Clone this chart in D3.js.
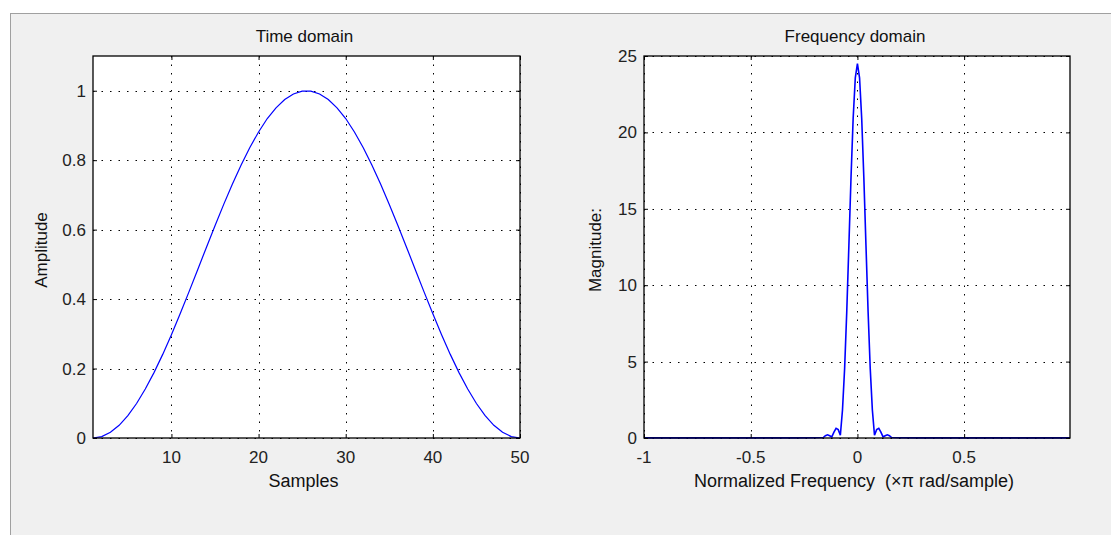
<!DOCTYPE html>
<html>
<head>
<meta charset="utf-8">
<script src="https://cdn.jsdelivr.net/npm/d3@7"></script>
<style>
  body { margin: 0; background: #fff; }
  svg { display: block; font-family: "Liberation Sans", Arial, sans-serif; }
  text { white-space: pre; }
</style>
</head>
<body>
<svg id="fig" width="1111" height="535"></svg>
<script>
// time domain: 50-point window, samples 1..50
var samples = d3.range(1, 51);
var amplitude = [0, 0.0041, 0.0163, 0.0365, 0.0643, 0.0993, 0.1409, 0.1883, 0.2408, 0.2976,
    0.3577, 0.4200, 0.4840, 0.5480, 0.6113, 0.6727, 0.7313, 0.7862, 0.8365, 0.8813,
    0.9200, 0.9505, 0.9745, 0.9908, 0.9990, 0.9990, 0.9908, 0.9745, 0.9505, 0.9200,
    0.8813, 0.8365, 0.7862, 0.7313, 0.6727, 0.6113, 0.5480, 0.4840, 0.4200, 0.3577,
    0.2976, 0.2408, 0.1883, 0.1409, 0.0993, 0.0643, 0.0365, 0.0163, 0.0041, 0];

// frequency domain (normalized frequency x pi rad/sample)
var freq = [-1, -0.6, -0.3, -0.2, -0.16, -0.15, -0.14, -0.13, -0.12, -0.11, -0.10, -0.09,
    -0.08, -0.07, -0.06, -0.05, -0.04, -0.03, -0.02, -0.01, 0, 0.01, 0.02, 0.03, 0.04,
    0.05, 0.06, 0.07, 0.08, 0.09, 0.10, 0.11, 0.12, 0.13, 0.14, 0.15, 0.16, 0.2, 0.3, 0.6, 0.996];
var magnitude = [0.005, 0.005, 0.01, 0.02, 0.03, 0.15, 0.21, 0.15, 0.07, 0.38, 0.63, 0.55,
    0.18, 1.83, 4.55, 8.26, 12.62, 17.07, 20.93, 23.57, 24.5, 23.57, 20.93, 17.07, 12.62,
    8.26, 4.55, 1.83, 0.18, 0.55, 0.63, 0.38, 0.07, 0.15, 0.21, 0.15, 0.03, 0.02, 0.01, 0.005, 0.005];

var timeTicksX = [10, 20, 30, 40, 50];
var timeTicksY = [0, 0.2, 0.4, 0.6, 0.8, 1];
var freqTicksX = [-1, -0.5, 0, 0.5];
var freqTicksY = [0, 5, 10, 15, 20, 25];

var svg = d3.select('#fig');

// window panel
svg.append('rect')
    .attr('x', 10.5).attr('y', 13.5)
    .attr('width', 1110).attr('height', 530)
    .style('fill', '#f0f0f0')
    .style('stroke', '#a0a0a0');

function drawAxes(opt) {
    var x = d3.scaleLinear().domain(opt.xDomain).range([opt.left, opt.right]);
    var y = d3.scaleLinear().domain(opt.yDomain).range([opt.bottom, opt.top]);
    var g = svg.append('g');

    g.append('rect')
        .attr('x', opt.left).attr('y', opt.top)
        .attr('width', opt.right - opt.left).attr('height', opt.bottom - opt.top)
        .style('fill', '#fff');

    // dotted grid
    g.selectAll('.gx').data(opt.xTicks).enter().append('line')
        .attr('x1', function(d){ return Math.round(x(d)) + 0.5; })
        .attr('x2', function(d){ return Math.round(x(d)) + 0.5; })
        .attr('y1', opt.top).attr('y2', opt.bottom)
        .style('stroke', '#000').style('stroke-width', 1)
        .style('stroke-dasharray', '1.5,7');
    g.selectAll('.gy').data(opt.yTicks).enter().append('line')
        .attr('y1', function(d){ return Math.round(y(d)) + 0.5; })
        .attr('y2', function(d){ return Math.round(y(d)) + 0.5; })
        .attr('x1', opt.left).attr('x2', opt.right)
        .style('stroke', '#000').style('stroke-width', 1)
        .style('stroke-dasharray', '1.5,7');

    // data line
    g.append('path')
        .datum(opt.xs.map(function(d, i){ return [d, opt.ys[i]]; }))
        .attr('d', d3.line()
            .x(function(d){ return x(d[0]); })
            .y(function(d){ return y(d[1]); }))
        .style('fill', 'none')
        .style('stroke', '#0000ff')
        .style('stroke-width', opt.lw);

    // inner ticks on all four sides
    var tl = 4;
    g.append('g').attr('transform', 'translate(0,' + opt.bottom + ')')
        .call(d3.axisTop(x).tickValues(opt.xTicks).tickSize(tl).tickFormat(''));
    g.append('g').attr('transform', 'translate(0,' + opt.top + ')')
        .call(d3.axisBottom(x).tickValues(opt.xTicks).tickSize(tl).tickFormat(''));
    g.append('g').attr('transform', 'translate(' + opt.left + ',0)')
        .call(d3.axisRight(y).tickValues(opt.yTicks).tickSize(tl).tickFormat(''));
    g.append('g').attr('transform', 'translate(' + opt.right + ',0)')
        .call(d3.axisLeft(y).tickValues(opt.yTicks).tickSize(tl).tickFormat(''));
    g.selectAll('.domain').remove();
    g.selectAll('.tick line').style('stroke', '#000');

    // box
    g.append('rect')
        .attr('x', opt.left).attr('y', opt.top)
        .attr('width', opt.right - opt.left).attr('height', opt.bottom - opt.top)
        .style('fill', 'none').style('stroke', '#000').style('stroke-width', 1.3);

    // tick labels
    g.selectAll('.xl').data(opt.xTicks).enter().append('text')
        .attr('x', function(d){ return x(d); })
        .attr('y', opt.bottom + 25)
        .attr('text-anchor', 'middle')
        .style('font-size', '17px').style('fill', '#222')
        .text(function(d){ return String(d); });
    g.selectAll('.yl').data(opt.yTicks).enter().append('text')
        .attr('x', opt.left - 7)
        .attr('y', function(d){ return y(d) + 6; })
        .attr('text-anchor', 'end')
        .style('font-size', '17px').style('fill', '#222')
        .text(function(d){ return String(d); });

    // title and labels
    var cx = (opt.left + opt.right) / 2;
    g.append('text').attr('x', cx - 2).attr('y', 42)
        .attr('text-anchor', 'middle')
        .style('font-size', '17px').style('fill', '#111')
        .text(opt.title);
    g.append('text').attr('x', cx - 3).attr('y', 487)
        .attr('text-anchor', 'middle')
        .style('font-size', '18px').style('fill', '#111')
        .text(opt.xLabel);
    g.append('text')
        .attr('transform', 'translate(' + opt.yLabelX + ',' + ((opt.top + opt.bottom) / 2 + 3) + ') rotate(-90)')
        .attr('text-anchor', 'middle')
        .style('font-size', '17px').style('fill', '#111')
        .text(opt.yLabel);
}

drawAxes({
    left: 93, right: 520, top: 56, bottom: 438,
    xDomain: [1, 50], yDomain: [0, 1.1],
    xTicks: timeTicksX, yTicks: timeTicksY,
    xs: samples, ys: amplitude, lw: 1.2,
    title: 'Time domain', xLabel: 'Samples', yLabel: 'Amplitude', yLabelX: 47
});

drawAxes({
    left: 644, right: 1070, top: 56, bottom: 438,
    xDomain: [-1, 0.996], yDomain: [0, 25],
    xTicks: freqTicksX, yTicks: freqTicksY,
    xs: freq, ys: magnitude, lw: 1.6,
    title: 'Frequency domain', xLabel: 'Normalized Frequency  (\u00d7\u03c0 rad/sample)',
    yLabel: 'Magnitude:', yLabelX: 601
});
</script>
</body>
</html>
